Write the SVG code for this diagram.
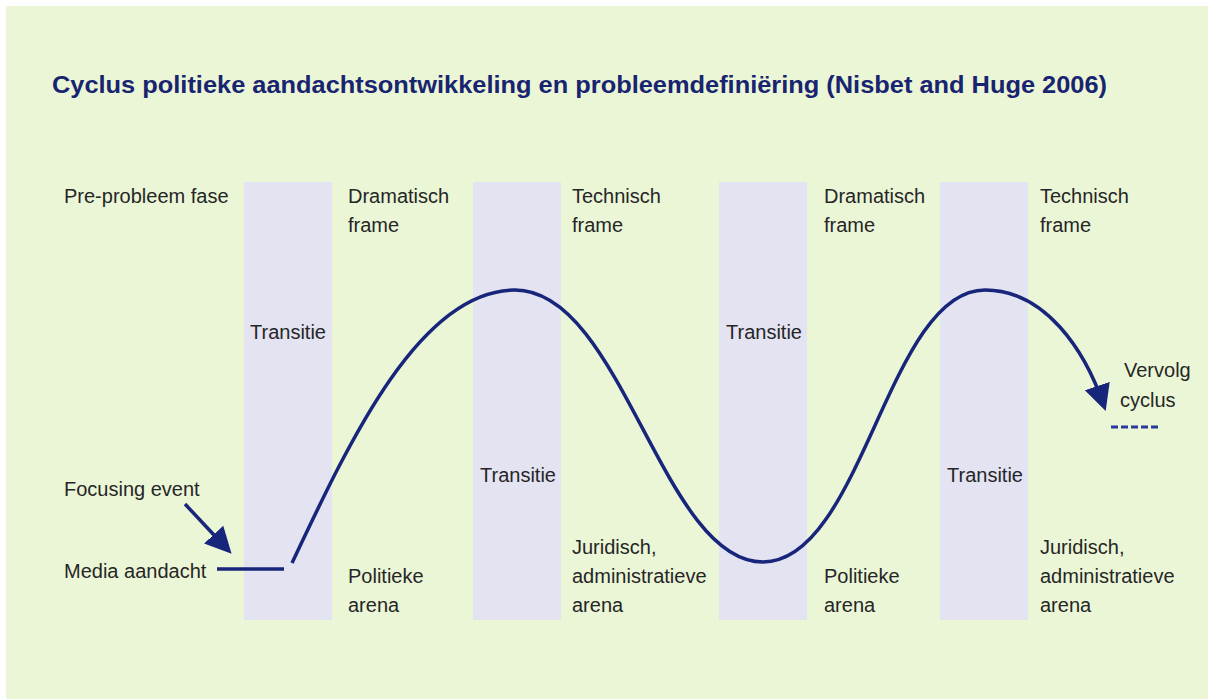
<svg xmlns="http://www.w3.org/2000/svg" width="1208" height="700" viewBox="0 0 1208 700">
<defs>
<style>
.lbl{font-family:"Liberation Sans",Arial,sans-serif;font-size:20px;fill:#262626}
.title{font-family:"Liberation Sans",Arial,sans-serif;font-size:23px;font-weight:bold;fill:#18246f}
.band{fill:#e3e3f2}
.ln{fill:none;stroke:#17257a;stroke-width:3.5}
</style>
<marker id="ah" viewBox="0 0 10 10" refX="8" refY="5" markerWidth="7.5" markerHeight="8" markerUnits="strokeWidth" orient="auto">
<path d="M0,0 L10,5 L0,10 z" fill="#17257a"/>
</marker>
</defs>
<rect x="0" y="0" width="1208" height="700" fill="#ffffff"/>
<rect x="6" y="6" width="1202" height="693" fill="#ebf6d7"/>
<text class="title" x="52" y="93" textLength="1055" lengthAdjust="spacingAndGlyphs">Cyclus politieke aandachtsontwikkeling en probleemdefiniëring (Nisbet and Huge 2006)</text>
<g id="band1"><rect class="band" x="244" y="182" width="88" height="438"/><text class="lbl" x="250" y="339">Transitie</text></g>
<g id="band2"><rect class="band" x="473" y="182" width="88" height="438"/><text class="lbl" x="480" y="482">Transitie</text></g>
<g id="band3"><rect class="band" x="719" y="182" width="88" height="438"/><text class="lbl" x="726" y="339">Transitie</text></g>
<g id="band4"><rect class="band" x="940" y="182" width="88" height="438"/><text class="lbl" x="947" y="482">Transitie</text></g>
<g id="pre"><text class="lbl" x="64" y="203">Pre-probleem fase</text></g>
<g id="dram1"><text class="lbl" x="348" y="203">Dramatisch</text><text class="lbl" x="348" y="232">frame</text></g>
<g id="tech1"><text class="lbl" x="572" y="203">Technisch</text><text class="lbl" x="572" y="232">frame</text></g>
<g id="dram2"><text class="lbl" x="824" y="203">Dramatisch</text><text class="lbl" x="824" y="232">frame</text></g>
<g id="tech2"><text class="lbl" x="1040" y="203">Technisch</text><text class="lbl" x="1040" y="232">frame</text></g>
<g id="focus"><text class="lbl" x="64" y="496">Focusing event</text></g>
<g id="media"><text class="lbl" x="64" y="578">Media aandacht</text></g>
<g id="pol1"><text class="lbl" x="348" y="583">Politieke</text><text class="lbl" x="348" y="612">arena</text></g>
<g id="jur1"><text class="lbl" x="572" y="554">Juridisch,</text><text class="lbl" x="572" y="583">administratieve</text><text class="lbl" x="572" y="612">arena</text></g>
<g id="pol2"><text class="lbl" x="824" y="583">Politieke</text><text class="lbl" x="824" y="612">arena</text></g>
<g id="jur2"><text class="lbl" x="1040" y="554">Juridisch,</text><text class="lbl" x="1040" y="583">administratieve</text><text class="lbl" x="1040" y="612">arena</text></g>
<g id="vervolg"><text class="lbl" x="1124" y="377">Vervolg</text><text class="lbl" x="1120" y="407">cyclus</text></g>
<g id="connectors">
<line class="ln" x1="185" y1="504" x2="228" y2="550" marker-end="url(#ah)"/>
<line class="ln" x1="217" y1="569" x2="284" y2="569"/>
<path class="ln" d="M292,563 C350,440 420,290 515,290 C622,290 662,562 763,562 C862,562 888,290 985,290 C1045,290 1085,350 1104,406" marker-end="url(#ah)"/>
<line x1="1111" y1="427" x2="1158" y2="427" stroke="#2a3a9a" stroke-width="3" stroke-dasharray="7,3"/>
</g>
</svg>
